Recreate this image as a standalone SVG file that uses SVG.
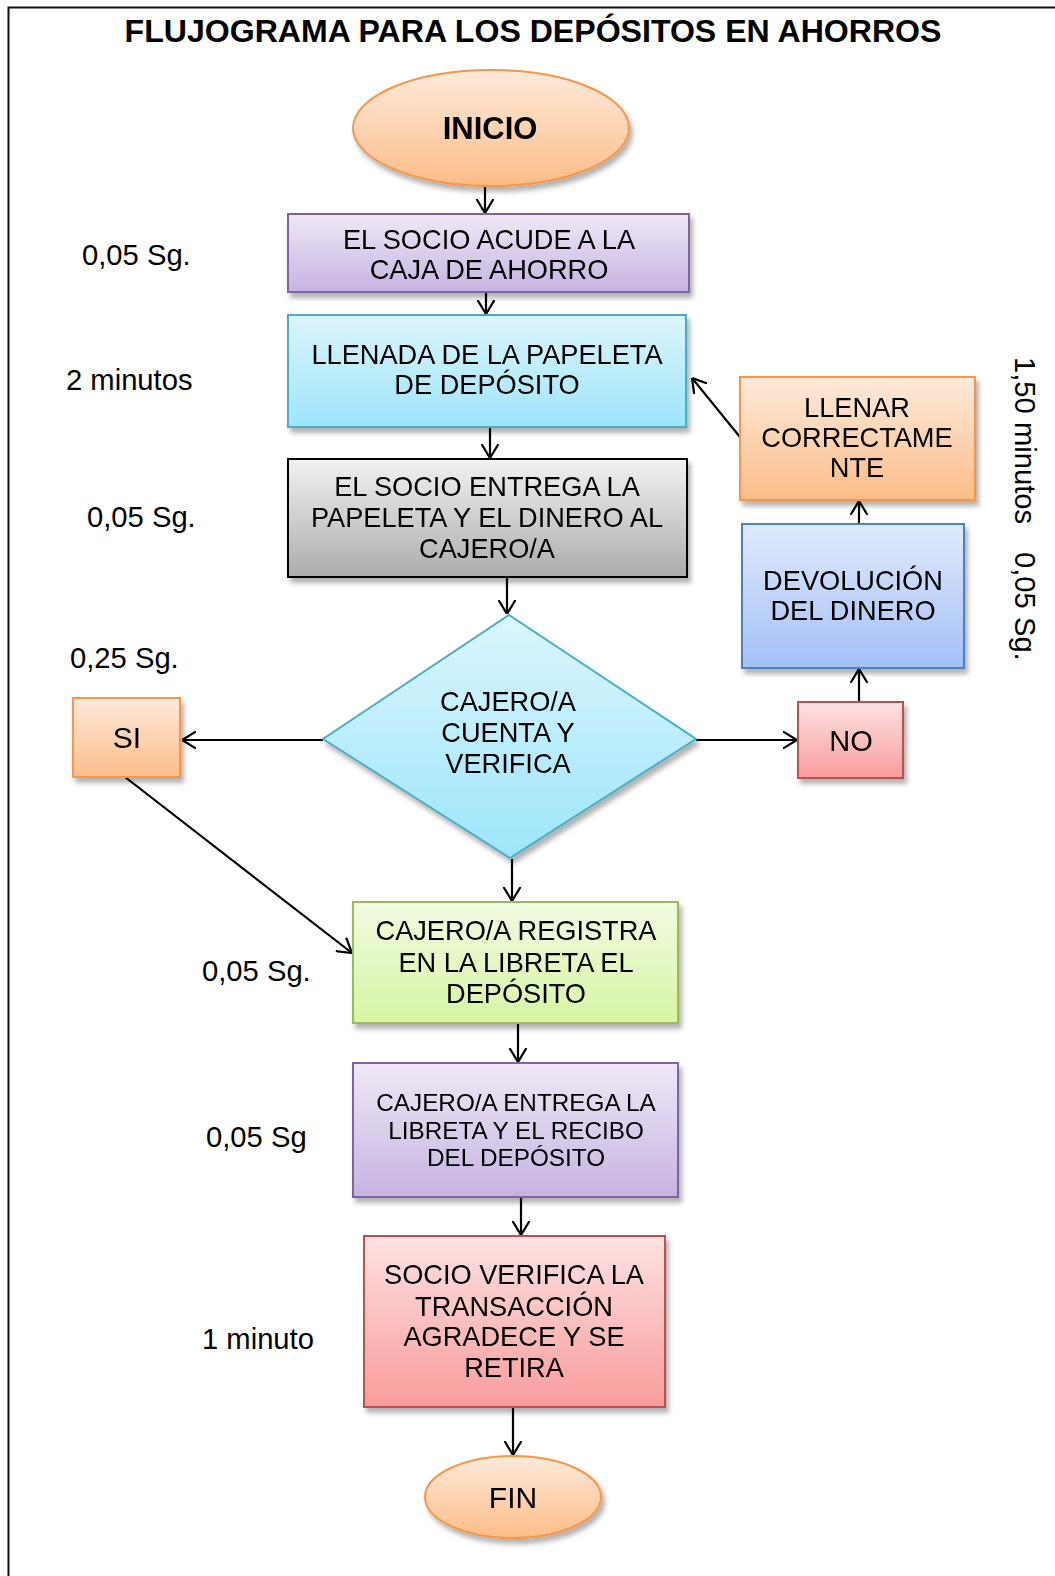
<svg xmlns="http://www.w3.org/2000/svg" width="1055" height="1576" viewBox="0 0 1055 1576">
<style>
text{font-family:"Liberation Sans",Arial,sans-serif;fill:#000}
.t{font-size:27.2px;text-anchor:middle}
.s{font-size:24.3px;text-anchor:middle}
.lab{font-size:29.2px}
.node{filter:url(#sh)}
.c{stroke:#000;stroke-width:2.2;fill:none;marker-end:url(#ah)}
</style>
<defs>
<filter id="sh" x="-10%" y="-10%" width="125%" height="135%">
<feDropShadow dx="3" dy="5" stdDeviation="2.5" flood-color="#000" flood-opacity="0.3"/>
</filter>
<marker id="ah" viewBox="0 0 14 18" refX="14" refY="9" markerWidth="14" markerHeight="18" markerUnits="userSpaceOnUse" orient="auto">
<path d="M0,0.5 L14,9 L0,17.5" fill="none" stroke="#000" stroke-width="2.2"/>
</marker>
<linearGradient id="gOr" x1="0" y1="0" x2="0" y2="1"><stop offset="0" stop-color="#feeadb"/><stop offset="1" stop-color="#fbbd88"/></linearGradient>
<linearGradient id="gPu" x1="0" y1="0" x2="0" y2="1"><stop offset="0" stop-color="#efe9f6"/><stop offset="1" stop-color="#c6b3e1"/></linearGradient>
<linearGradient id="gCy" x1="0" y1="0" x2="0" y2="1"><stop offset="0" stop-color="#dcf6fd"/><stop offset="1" stop-color="#9de5fb"/></linearGradient>
<linearGradient id="gGr" x1="0" y1="0" x2="0" y2="1"><stop offset="0" stop-color="#f2f2f2"/><stop offset="1" stop-color="#acacac"/></linearGradient>
<linearGradient id="gBl" x1="0" y1="0" x2="0" y2="1"><stop offset="0" stop-color="#e0eafc"/><stop offset="1" stop-color="#a3c0f6"/></linearGradient>
<linearGradient id="gRd" x1="0" y1="0" x2="0" y2="1"><stop offset="0" stop-color="#fde2e2"/><stop offset="1" stop-color="#f99c9c"/></linearGradient>
<linearGradient id="gGn" x1="0" y1="0" x2="0" y2="1"><stop offset="0" stop-color="#f2fbe2"/><stop offset="1" stop-color="#d6f5a3"/></linearGradient>
</defs>
<rect width="1055" height="1576" fill="#fff"/>
<path d="M8.5,1576 V7.5 H1055" fill="none" stroke="#111" stroke-width="2"/>
<text x="533" y="42" style="font-size:32.1px;font-weight:bold;text-anchor:middle">FLUJOGRAMA PARA LOS DEPÓSITOS EN AHORROS</text>

<g id="labels">
<text class="lab" x="82" y="265">0,05 Sg.</text>
<text class="lab" x="66" y="390">2 minutos</text>
<text class="lab" x="87" y="527">0,05 Sg.</text>
<text class="lab" x="70" y="668">0,25 Sg.</text>
<text class="lab" x="202" y="981">0,05 Sg.</text>
<text class="lab" x="206" y="1147">0,05 Sg</text>
<text class="lab" x="202" y="1349">1 minuto</text>
<text class="lab" transform="translate(1015,357) rotate(90)">1,50 minutos</text>
<text class="lab" transform="translate(1015,552) rotate(90)">0,05 Sg.</text>
</g>

<g id="connectors">
<line class="c" x1="485" y1="187" x2="485" y2="213"/>
<line class="c" x1="486" y1="292" x2="486" y2="314"/>
<line class="c" x1="490" y1="427" x2="490" y2="458"/>
<line class="c" x1="507" y1="577" x2="507" y2="614"/>
<line class="c" x1="323" y1="740" x2="182" y2="740"/>
<line class="c" x1="696" y1="740" x2="797" y2="740"/>
<line class="c" x1="859" y1="702" x2="859" y2="669"/>
<line class="c" x1="859" y1="524" x2="859" y2="501"/>
<line class="c" x1="744" y1="442" x2="692" y2="378"/>
<line class="c" x1="125" y1="777" x2="352" y2="953"/>
<line class="c" x1="512" y1="859" x2="512" y2="901"/>
<line class="c" x1="518" y1="1023" x2="518" y2="1062"/>
<line class="c" x1="521" y1="1197" x2="521" y2="1235"/>
<line class="c" x1="513" y1="1407" x2="513" y2="1455"/>
</g>

<g id="inicio" class="node">
<ellipse cx="491" cy="128" rx="138" ry="58" fill="url(#gOr)" stroke="#f79646" stroke-width="2"/>
<text x="490" y="139" style="font-size:31px;font-weight:bold;text-anchor:middle">INICIO</text>
</g>
<g id="acude" class="node">
<rect x="288" y="214" width="401" height="78" fill="url(#gPu)" stroke="#8064a2" stroke-width="2"/>
<text class="t" x="489" y="249">EL SOCIO ACUDE A LA</text>
<text class="t" x="489" y="279">CAJA DE AHORRO</text>
</g>
<g id="llenada" class="node">
<rect x="288" y="315" width="398" height="112" fill="url(#gCy)" stroke="#4bacc6" stroke-width="2"/>
<text class="t" x="487" y="364">LLENADA DE LA PAPELETA</text>
<text class="t" x="487" y="394">DE DEPÓSITO</text>
</g>
<g id="entrega" class="node">
<rect x="288" y="459" width="399" height="118" fill="url(#gGr)" stroke="#000" stroke-width="2"/>
<text class="t" x="487" y="496">EL SOCIO ENTREGA LA</text>
<text class="t" x="487" y="527">PAPELETA Y EL DINERO AL</text>
<text class="t" x="487" y="558">CAJERO/A</text>
</g>
<g id="verifica" class="node">
<polygon points="509,615 696,739 510,858 323,739" fill="url(#gCy)" stroke="#4bacc6" stroke-width="2"/>
<text class="t" x="508" y="711">CAJERO/A</text>
<text class="t" x="508" y="742">CUENTA Y</text>
<text class="t" x="508" y="773">VERIFICA</text>
</g>
<g id="si" class="node">
<rect x="73" y="698" width="107" height="79" fill="url(#gOr)" stroke="#f79646" stroke-width="2"/>
<text x="127" y="748" style="font-size:30px;text-anchor:middle">SI</text>
</g>
<g id="no" class="node">
<rect x="798" y="702" width="105" height="76" fill="url(#gRd)" stroke="#c0504d" stroke-width="2"/>
<text x="851" y="751" style="font-size:29px;text-anchor:middle">NO</text>
</g>
<g id="devolucion" class="node">
<rect x="742" y="524" width="222" height="144" fill="url(#gBl)" stroke="#4f81bd" stroke-width="2"/>
<text class="t" x="853" y="590">DEVOLUCIÓN</text>
<text class="t" x="853" y="620">DEL DINERO</text>
</g>
<g id="llenar" class="node">
<rect x="740" y="377" width="235" height="123" fill="url(#gOr)" stroke="#f79646" stroke-width="2"/>
<text class="t" x="857" y="417">LLENAR</text>
<text class="t" x="857" y="447">CORRECTAME</text>
<text class="t" x="857" y="477">NTE</text>
</g>
<g id="registra" class="node">
<rect x="353" y="902" width="325" height="121" fill="url(#gGn)" stroke="#9bbb59" stroke-width="2"/>
<text class="t" x="516" y="940">CAJERO/A REGISTRA</text>
<text class="t" x="516" y="972">EN LA LIBRETA EL</text>
<text class="t" x="516" y="1003">DEPÓSITO</text>
</g>
<g id="libreta" class="node">
<rect x="353" y="1063" width="325" height="134" fill="url(#gPu)" stroke="#8064a2" stroke-width="2"/>
<text class="s" x="516" y="1111">CAJERO/A ENTREGA LA</text>
<text class="s" x="516" y="1139">LIBRETA Y EL RECIBO</text>
<text class="s" x="516" y="1166">DEL DEPÓSITO</text>
</g>
<g id="retira" class="node">
<rect x="364" y="1236" width="301" height="171" fill="url(#gRd)" stroke="#c0504d" stroke-width="2"/>
<text class="t" x="514" y="1284">SOCIO VERIFICA LA</text>
<text class="t" x="514" y="1316">TRANSACCIÓN</text>
<text class="t" x="514" y="1346">AGRADECE Y SE</text>
<text class="t" x="514" y="1377">RETIRA</text>
</g>
<g id="fin" class="node">
<ellipse cx="513" cy="1497" rx="88" ry="41" fill="url(#gOr)" stroke="#f79646" stroke-width="2"/>
<text x="513" y="1508" style="font-size:30px;text-anchor:middle">FIN</text>
</g>
</svg>
